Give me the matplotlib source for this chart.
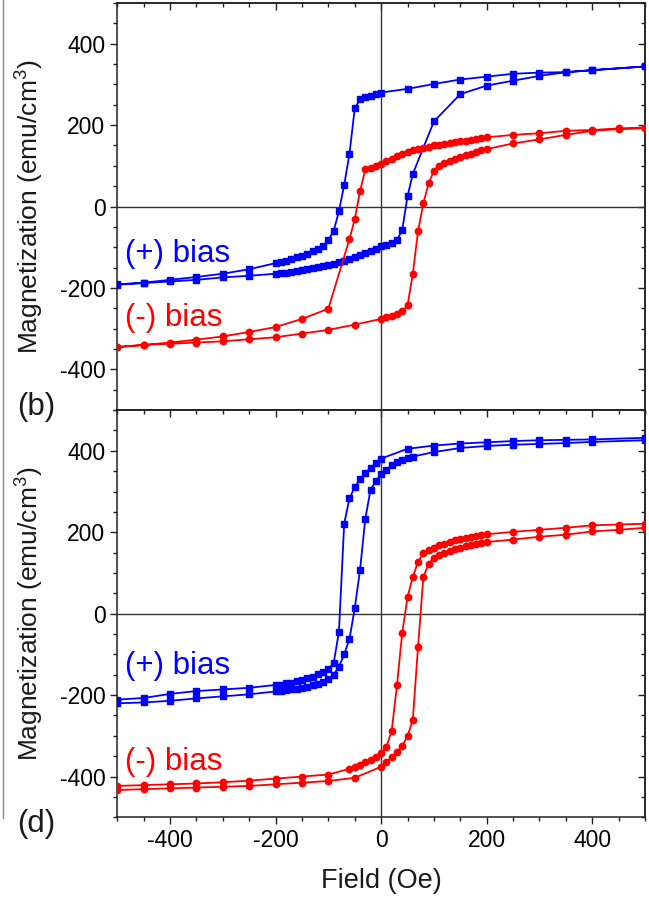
"""Hysteresis loops, panels (b) and (d), saved to out.png"""
import matplotlib
matplotlib.use("Agg")
import matplotlib.pyplot as plt
from matplotlib.ticker import MultipleLocator
from matplotlib.lines import Line2D

BLUE = '#0000FF'
RED = '#FF0000'
TEXT = '#1A1A1A'
AXIS = '#222222'

matplotlib.rcParams.update({
    'font.family': ['Liberation Sans', 'DejaVu Sans'],
    'font.size': 16.5,
    'text.color': TEXT,
    'axes.unicode_minus': False,
    'mathtext.fontset': 'custom',
    'mathtext.rm': 'Liberation Sans',
    'mathtext.it': 'Liberation Sans:italic',
    'mathtext.bf': 'Liberation Sans:bold',
    'mathtext.default': 'regular',
})

# ── Panel (b) data ─────────────────────────────────────────────────────────
# (+) bias, field sweep down then up
b_pos_down_H = [500, 400, 350, 300, 250, 200, 150, 100, 50, 0,
                -10, -20, -30, -40, -50, -60, -70, -80, -90, -100,
                -110, -120, -130, -140, -150, -160, -170, -180, -190, -200,
                -250, -300, -350, -400, -450, -500]
b_pos_down_M = [344, 335, 330, 329, 326, 319, 312, 301, 289, 280,
                276, 272, 268, 263, 241, 129, 53, -12, -60, -82,
                -97, -105, -110, -116, -121, -124, -129, -133, -137, -139,
                -154, -165, -173, -180, -187, -191]
b_pos_up_H = [-500, -450, -400, -350, -300, -250, -200,
              -190, -180, -170, -160, -150, -140, -130, -120, -110, -100,
              -90, -80, -70, -60, -50, -40, -30, -20, -10, 0,
              10, 20, 30, 40, 50, 60, 100, 150, 200, 250, 300, 350, 400, 500]
b_pos_up_M = [-192, -188, -184, -180, -174, -170, -165,
              -164, -162, -160, -158, -156, -154, -151, -149, -146, -144,
              -141, -137, -133, -129, -124, -119, -115, -110, -104, -98,
              -94, -90, -83, -57, 25, 80, 209, 276, 297, 309, 321, 330, 335, 344]

# (-) bias
b_neg_down_H = [500, 450, 400, 350, 300, 250, 200,
                190, 180, 170, 160, 150, 140, 130, 120, 110, 100,
                90, 80, 70, 60, 50, 40, 30, 20, 10, 0,
                -10, -20, -30, -40, -50, -60,
                -100, -150, -200, -250, -300, -350, -400, -450, -500]
b_neg_down_M = [194, 192, 188, 186, 180, 176, 170,
                168, 166, 164, 162, 160, 158, 156, 154, 152, 150,
                147, 144, 141, 138, 134, 129, 123, 117, 111, 104,
                99, 95, 91, 37, -31, -80,
                -251, -276, -296, -308, -319, -327, -334, -340, -345]
b_neg_up_H = [-500, -450, -400, -350, -300, -250, -200, -150, -100, -50,
              0, 10, 20, 30, 40, 50, 60, 70, 80, 90, 100,
              110, 120, 130, 140, 150, 160, 170, 180, 190, 200,
              250, 300, 350, 400, 450, 500]
b_neg_up_M = [-345, -340, -337, -334, -331, -326, -321, -312, -303, -290,
              -276, -272, -268, -263, -257, -243, -166, -60, 8, 57, 88,
              100, 107, 113, 118, 122, 126, 130, 134, 138, 141,
              155, 165, 176, 186, 190, 192]

# ── Panel (d) data ─────────────────────────────────────────────────────────
d_pos_down_H = [500, 400, 350, 300, 250, 200, 150, 100, 50, 0,
                -10, -20, -30, -40, -50, -60, -70, -80, -90, -100,
                -110, -120, -130, -140, -150, -160, -170, -180, -190, -200,
                -250, -300, -350, -400, -450, -500]
d_pos_down_M = [432, 428, 427, 426, 424, 421, 418, 413, 405, 381,
                370, 358, 346, 330, 311, 283, 221, -45, -122, -135,
                -143, -149, -155, -159, -163, -166, -169, -171, -174, -175,
                -182, -186, -190, -197, -207, -211]
d_pos_up_H = [-500, -450, -400, -350, -300, -250, -200,
              -190, -180, -170, -160, -150, -140, -130, -120, -110, -100,
              -90, -80, -70, -60, -50, -40, -30, -20, -10, 0,
              10, 20, 30, 40, 50, 60, 100, 150, 200, 250, 300, 350, 400, 500]
d_pos_up_M = [-220, -218, -214, -208, -203, -198, -191,
              -190, -188, -186, -184, -182, -179, -176, -172, -167, -160,
              -150, -130, -100, -62, 13, 107, 233, 305, 325, 344,
              354, 364, 372, 378, 383, 386, 397, 407, 412, 415, 417, 419, 422, 426]

d_neg_down_H = [500, 450, 400, 350, 300, 250, 200,
                190, 180, 170, 160, 150, 140, 130, 120, 110, 100,
                90, 80, 70, 60, 50, 40, 30, 20, 10, 0,
                -10, -20, -30, -40, -50, -60,
                -100, -150, -200, -250, -300, -350, -400, -450, -500]
d_neg_down_M = [221, 219, 217, 211, 206, 201, 195,
                193, 191, 188, 186, 183, 180, 176, 172, 168, 162,
                156, 148, 128, 90, 41, -47, -176, -288, -327, -343,
                -352, -359, -365, -371, -376, -381,
                -395, -400, -405, -410, -414, -417, -419, -421, -423]
d_neg_up_H = [-500, -450, -400, -350, -300, -250, -200, -150, -100, -50,
              0, 10, 20, 30, 40, 50, 60, 70, 80, 90, 100,
              110, 120, 130, 140, 150, 160, 170, 180, 190, 200,
              250, 300, 350, 400, 450, 500]
d_neg_up_M = [-433, -431, -429, -427, -425, -423, -419, -415, -411, -403,
              -376, -365, -353, -340, -324, -301, -261, -81, 90, 123, 137,
              144, 149, 154, 158, 162, 166, 168, 171, 174, 176,
              182, 189, 194, 202, 206, 211]

XLIM = (-500, 500)
YLIM = (-500, 500)

fig = plt.figure(figsize=(6.49, 8.99), dpi=100)
fig.patch.set_facecolor("white")

LEFT, WIDTH = 0.1807, 0.8131
MID, TOP, BOT = 0.5438, 0.9967, 0.0909
ax_b = fig.add_axes([LEFT, MID, WIDTH, TOP - MID])
ax_d = fig.add_axes([LEFT, BOT, WIDTH, MID - BOT])


def style_axes(ax, show_xlabels):
    ax.set_xlim(*XLIM)
    ax.set_ylim(*YLIM)
    for a in (ax.xaxis, ax.yaxis):
        a.set_major_locator(MultipleLocator(200))
        a.set_minor_locator(MultipleLocator(50))
    ax.tick_params(which='both', direction='out', width=1.0, color=AXIS,
                   top=False, right=False, labelsize=16.5, pad=3.5)
    ax.tick_params(which='major', length=5)
    ax.tick_params(which='minor', length=3)
    if not show_xlabels:
        ax.tick_params(axis='x', labelbottom=False)
    for s in ax.spines.values():
        s.set_color(AXIS)
        s.set_linewidth(1.1)
    # inward ticks on the top and right sides
    top = ax.secondary_xaxis('top')
    right = ax.secondary_yaxis('right')
    for sec, a in ((top, top.xaxis), (right, right.yaxis)):
        a.set_major_locator(MultipleLocator(200))
        a.set_minor_locator(MultipleLocator(50))
        sec.tick_params(which='both', direction='in', width=1.0, color=AXIS,
                        labeltop=False, labelright=False,
                        labelbottom=False, labelleft=False)
        sec.tick_params(which='major', length=5)
        sec.tick_params(which='minor', length=3)
        for s in sec.spines.values():
            s.set_color(AXIS)
            s.set_linewidth(1.1)
    ax.axhline(0, color='#333333', lw=1.0, zorder=1)
    ax.axvline(0, color='#333333', lw=1.0, zorder=1)


def draw_loop(ax, H1, M1, H2, M2, color, marker, ms):
    ax.plot(H1 + H2, M1 + M2, color=color, lw=1.3, marker=marker,
            ms=ms, mec=color, mfc=color, zorder=3, clip_on=True)


style_axes(ax_b, False)
style_axes(ax_d, True)

draw_loop(ax_b, b_pos_down_H, b_pos_down_M, b_pos_up_H, b_pos_up_M, BLUE, 's', 4.0)
draw_loop(ax_b, b_neg_down_H, b_neg_down_M, b_neg_up_H, b_neg_up_M, RED, 'o', 4.6)
draw_loop(ax_d, d_pos_down_H, d_pos_down_M, d_pos_up_H, d_pos_up_M, BLUE, 's', 4.0)
draw_loop(ax_d, d_neg_down_H, d_neg_down_M, d_neg_up_H, d_neg_up_M, RED, 'o', 4.6)

# annotations
ax_b.text(-486, -135, "(+) bias", color=BLUE, fontsize=22.5, va='baseline')
ax_b.text(-486, -293, "(-) bias", color=RED, fontsize=22.5, va='baseline')
ax_d.text(-486, -147, "(+) bias", color=BLUE, fontsize=22.5, va='baseline')
ax_d.text(-486, -384, "(-) bias", color=RED, fontsize=22.5, va='baseline')

ylab = r'Magnetization (emu/cm$^{3}$)'
fig.text(0.046, (MID + TOP) / 2, ylab, rotation=90, ha='center', va='center',
         fontsize=19)
fig.text(0.046, (BOT + MID) / 2, ylab, rotation=90, ha='center', va='center',
         fontsize=19)
fig.text(LEFT + WIDTH / 2, 0.012, "Field (Oe)", ha='center', va='baseline',
         fontsize=19.5)

fig.text(0.026, 0.5384, "(b)", fontsize=22.5, va='baseline', ha='left')
fig.text(0.026, 0.0749, "(d)", fontsize=22.5, va='baseline', ha='left')

# edge of the neighbouring panel visible at the left border
fig.add_artist(Line2D([0.005, 0.005], [0.09, 1.0], color='#888888', lw=1.0,
                      transform=fig.transFigure))

fig.savefig("out.png", dpi=100)
plt.close(fig)
print("OK out.png")
